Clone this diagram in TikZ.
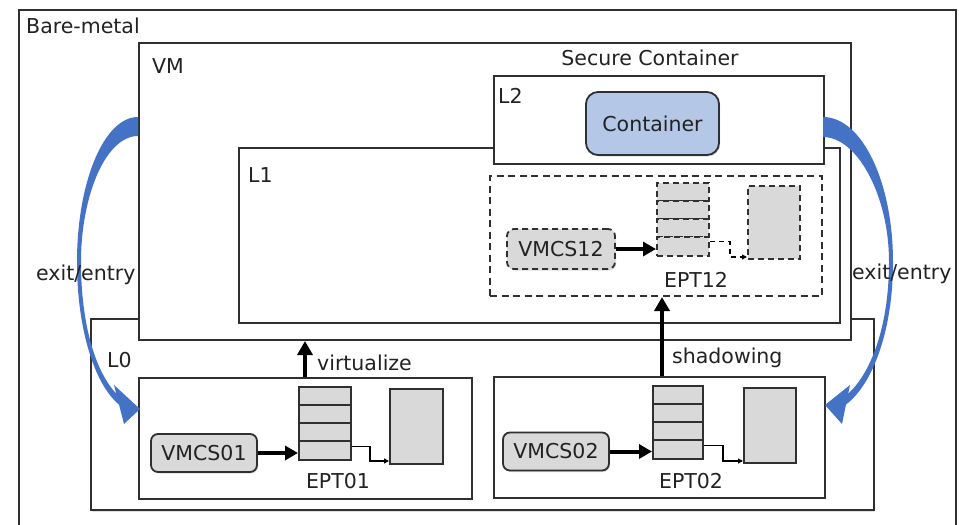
\documentclass[tikz,border=0pt]{standalone}
\usepackage{fontspec}
\setmainfont{DejaVu Sans}
\usetikzlibrary{arrows.meta,shadows}
\definecolor{frame}{HTML}{303030}
\definecolor{cellgray}{HTML}{D9D9D9}
\definecolor{ctrblue}{HTML}{B4C7E7}
\definecolor{exitblue}{HTML}{4472C4}
\definecolor{txt}{HTML}{222222}
\begin{document}
\begin{tikzpicture}[x=1pt,y=-1pt,
  every node/.style={font=\fontsize{20.5}{24}\selectfont, text=txt},
  frm/.style={draw=frame, line width=2pt, fill=white, inner sep=0pt, anchor=north west},
  dframe/.style={frm, fill=none, dash pattern=on 7pt off 4.5pt},
  cell/.style={draw=frame, line width=2pt, fill=cellgray, inner sep=0pt, anchor=north west, minimum width=52pt, minimum height=18pt},
  dcell/.style={cell, dash pattern=on 6pt off 4pt},
  vmcs/.style={draw=frame, line width=1.8pt, fill=cellgray, rounded corners=7pt, inner sep=0pt,
    minimum width=106pt, minimum height=38pt, drop shadow={shadow xshift=1.2pt, shadow yshift=-1.5pt, fill=black!25}},
  dvmcs/.style={vmcs, dash pattern=on 6pt off 4pt},
  lbl/.style={inner sep=0pt, anchor=base west},
  push/.style={line width=4pt, draw=black, -{Triangle[length=13pt,width=14pt]}},
  lift/.style={line width=4.2pt, draw=black, -{Triangle[length=14pt,width=15pt]}},
  link/.style={line width=1.5pt, draw=black, -{Triangle[length=5pt,width=5pt]}},
  dlink/.style={link, line width=1.8pt, dash pattern=on 5pt off 4pt}
]
\useasboundingbox (0,0) rectangle (959,525);

% nested frames
\node[frm, minimum width=937pt, minimum height=530pt] (bare) at (18,9) {};
\node[frm, minimum width=783pt, minimum height=191pt, drop shadow={shadow xshift=1pt, shadow yshift=-2pt, fill=black!25}] (l0) at (90,318) {};
\node[frm, minimum width=712pt, minimum height=297pt] (vm) at (138,42) {};
\node[frm, minimum width=601pt, minimum height=175pt] (l1) at (238,147) {};
\node[frm, minimum width=330pt, minimum height=88pt] (l2) at (493,75) {};
\node[dframe, minimum width=332pt, minimum height=120pt] (dsh) at (489,175) {};
\node[frm, minimum width=333pt, minimum height=121pt] (box1) at (138,377) {};
\node[frm, minimum width=331pt, minimum height=121pt] (box2) at (493,376) {};

% container
\node[draw=frame, line width=1.8pt, fill=ctrblue, rounded corners=12pt, inner sep=0pt,
  minimum width=133pt, minimum height=63pt,
  drop shadow={shadow xshift=1.2pt, shadow yshift=-1.5pt, fill=black!25}] (ctr) at (652.5,123.5) {Container};

% L0 page tables
\node[vmcs] (v01) at (204,453) {VMCS01};
\node[cell] (e01a) at (298,386) {};
\node[cell] (e01b) at (298,404) {};
\node[cell] (e01c) at (298,422) {};
\node[cell, minimum height=19pt] (e01d) at (298,440) {};
\node[cell, minimum width=53pt, minimum height=75pt] (p01) at (389,388) {};
\node[inner sep=0pt, anchor=base] (t01) at (338,488) {EPT01};

\node[vmcs] (v02) at (556,451.5) {VMCS02};
\node[cell, minimum width=50pt] (e02a) at (652,385) {};
\node[cell, minimum width=50pt] (e02b) at (652,403) {};
\node[cell, minimum width=50pt] (e02c) at (652,421) {};
\node[cell, minimum width=50pt, minimum height=19pt] (e02d) at (652,439) {};
\node[cell, minimum width=52pt, minimum height=75pt] (p02) at (743,387) {};
\node[inner sep=0pt, anchor=base] (t02) at (691,488) {EPT02};

% L1 page tables (virtualized)
\node[dvmcs, minimum width=108pt, minimum height=40pt] (v12) at (561,249) {VMCS12};
\node[dcell] (e12a) at (656,182) {};
\node[dcell] (e12b) at (656,200) {};
\node[dcell] (e12c) at (656,218) {};
\node[dcell, minimum height=19pt] (e12d) at (656,236) {};
\node[dcell, minimum width=52pt, minimum height=73pt] (p12) at (747,185) {};
\node[inner sep=0pt, anchor=base] (t12) at (696,287) {EPT12};

% connectors
\draw[push] (v01.east) -- (v01.east -| e01d.west);
\draw[push] (v02.east) -- (v02.east -| e02d.west);
\draw[push] (v12.east) -- (v12.east -| e12d.west);
\draw[link] ([yshift=4pt]e01d.east) -- ++(18,0) |- ([yshift=4pt]p01.south west);
\draw[link] ([yshift=4pt]e02d.east) -- ++(19,0) |- ([yshift=3pt]p02.south west);
\draw[dlink] ([yshift=5pt]e12d.east) -- ++(20,0) |- ([yshift=3pt]p12.south west);
\draw[lift] (305,0 |- box1.north) -- (305,0 |- vm.south);
\draw[lift] (662,0 |- box2.north) -- (662,0 |- dsh.south);

% exit/entry sweeps
\fill[exitblue] (138,117) .. controls (104,117) and (77,182) .. (77,262)
  .. controls (77,330) and (95,385) .. (119,404.5)
  -- (124,424) -- (140,409) -- (114,385) -- (116.2,393.6)
  .. controls (96,372) and (81,326) .. (81,262)
  .. controls (81,195) and (106,136) .. (138,136) -- cycle;
\fill[exitblue] (823,117) .. controls (862,117) and (893,182) .. (893,262)
  .. controls (893,332) and (872,385) .. (846,404.5)
  -- (842,424) -- (825,405) -- (850,385) -- (848.2,393.6)
  .. controls (870,374) and (889,328) .. (889,262)
  .. controls (889,195) and (857,137) .. (823,137) -- cycle;

% labels
\node[lbl] (tbare) at (26,33) {Bare-metal};
\node[lbl] (tvm) at (152,73) {VM};
\node[inner sep=0pt, anchor=base] (tsec) at (650,65) {Secure Container};
\node[lbl] (tl2) at (498,103) {L2};
\node[lbl] (tl1) at (248,182) {L1};
\node[lbl] (tl0) at (107,367) {L0};
\node[lbl] (tvirt) at (317,370) {virtualize};
\node[lbl] (tshad) at (672,363) {shadowing};
\node[lbl] (texl) at (36,280) {exit/entry};
\node[lbl] (texr) at (852,279) {exit/entry};
\end{tikzpicture}
\end{document}
